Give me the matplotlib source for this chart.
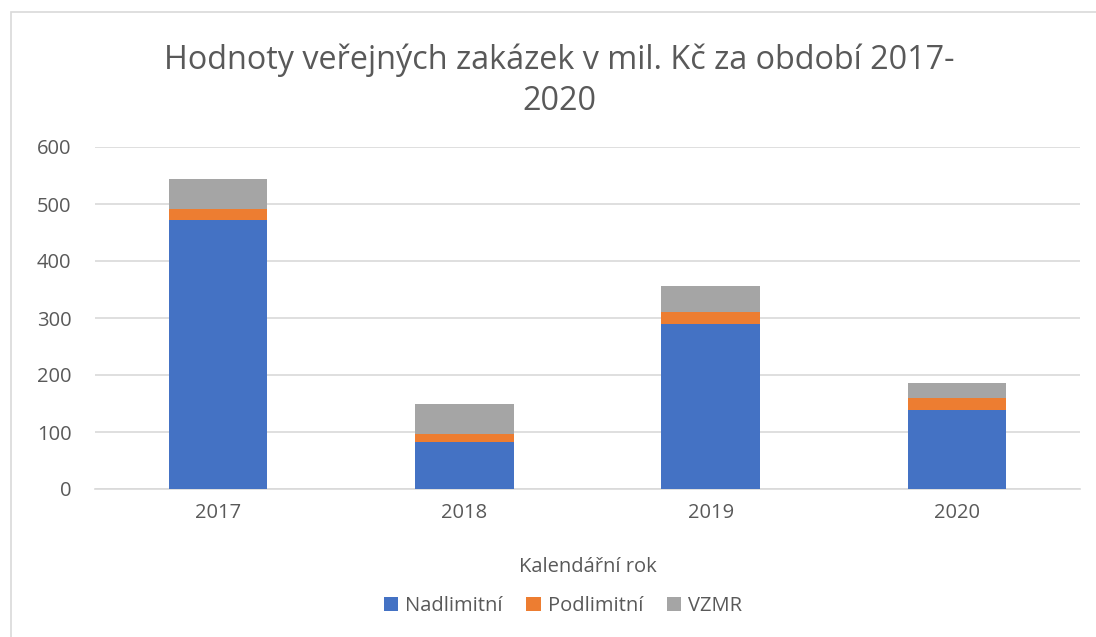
import numpy as np
import matplotlib.pyplot as plt
from matplotlib.patches import Rectangle

plt.rcParams['font.family'] = ['Open Sans', 'DejaVu Sans']

roky = ['2017', '2018', '2019', '2020']
nadlimitni = [472, 83, 289, 139]
podlimitni = [20, 14, 22, 20]
vzmr = [51, 53, 45, 27]

barvy = ['#4472C4', '#ED7D31', '#A5A5A5']
text_col = '#595959'
fs = 14.5

fig = plt.figure(figsize=(10.96, 6.37), dpi=100)
ax = fig.add_axes([95 / 1096, 1 - 489 / 637, (1080 - 95) / 1096, (489 - 147) / 637])

x = np.arange(len(roky))
w = 0.4
spodek = np.zeros(len(roky))
for hodnoty, barva, nazev in zip([nadlimitni, podlimitni, vzmr], barvy,
                                   ['Nadlimitní', 'Podlimitní', 'VZMR']):
    ax.bar(x, hodnoty, w, bottom=spodek, color=barva, label=nazev, zorder=3)
    spodek += np.array(hodnoty)

ax.set_xlim(-0.5, 3.5)
ax.set_ylim(0, 600)
ax.set_yticks(range(0, 601, 100))
ax.yaxis.grid(True, color='#D9D9D9', linewidth=1.2, zorder=0)
for s in ['top', 'right', 'left']:
    ax.spines[s].set_visible(False)
ax.spines['bottom'].set_color('#D9D9D9')
ax.spines['bottom'].set_linewidth(1.2)
ax.tick_params(axis='both', length=0, labelsize=fs, colors=text_col)
ax.tick_params(axis='y', pad=17)
ax.tick_params(axis='x', pad=10)
ax.set_xticks(x)
ax.set_xticklabels(roky)

fig.text(588 / 1096, 1 - 567 / 637, 'Kalendářní rok', ha='center', va='center',
         fontsize=fs, color=text_col)

fig.text(559 / 1096, 1 - 60 / 637, 'Hodnoty veřejných zakázek v mil. Kč za období 2017-',
         ha='center', va='center', fontsize=23.3, color=text_col)
fig.text(559 / 1096, 1 - 101 / 637, '2020', ha='center', va='center',
         fontsize=23.3, color=text_col)

fig.legend(loc='center', bbox_to_anchor=(563 / 1096, 1 - 606 / 637), ncol=3,
           frameon=False, fontsize=fs, labelcolor=text_col, handlelength=0.7,
           handleheight=0.7, handletextpad=0.35, columnspacing=1.2)

fig.patches.append(Rectangle((11 / 1096, -0.05), 1.05, 1 - 12 / 637 + 0.05,
                             transform=fig.transFigure, fill=False,
                             edgecolor='#D9D9D9', linewidth=1.2))

fig.savefig('out.png', dpi=100)
